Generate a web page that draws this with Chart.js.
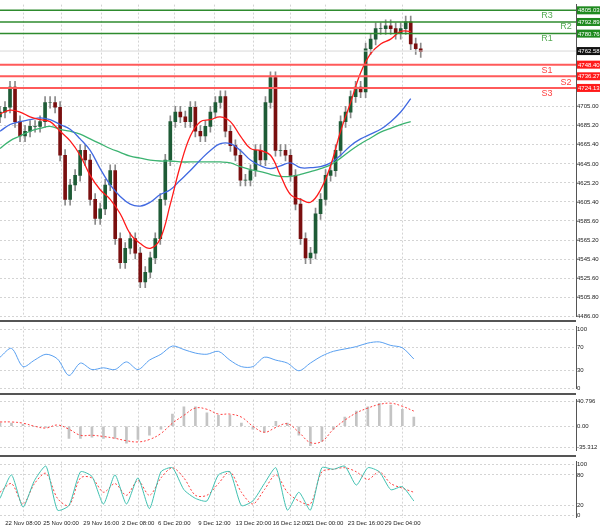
<!DOCTYPE html>
<html>
<head>
<meta charset="utf-8">
<script src="https://cdn.jsdelivr.net/npm/chart.js@4"></script>
<style>
  body { margin: 0; background: #fff; width: 600px; height: 527px; overflow: hidden; position: relative; font-family: "Liberation Sans", sans-serif; }
  canvas { position: absolute; left: 0; }
  .sep { position: absolute; left: 0; width: 576px; height: 2px; background: #555; }
</style>
</head>
<body>
<canvas id="main" width="600" height="321" style="top:0"></canvas>
<div class="sep" style="top:320px"></div>
<canvas id="rsi" width="600" height="71" style="top:322px"></canvas>
<div class="sep" style="top:393px"></div>
<canvas id="macd" width="600" height="60" style="top:395px"></canvas>
<div class="sep" style="top:455px"></div>
<canvas id="stoch" width="600" height="72" style="top:457px"></canvas>
<script>
// Closing prices, one candle every 5px (index = x/5)
const closes = [4699,4704,4725,4689,4674,4679,4684,4684,4689,4709,4709,4704,4654,4608,4623,4633,4659,4649,4608,4588,
  4598,4623,4638,4567,4542,4557,4567,4552,4522,4532,4547,4567,4608,4649,4689,4699,4694,4689,4704,4679,
  4674,4684,4699,4709,4715,4679,4664,4654,4628,4628,4638,4659,4649,4709,4735,4659,4659,4654,4633,4603,
  4567,4547,4552,4593,4608,4633,4638,4659,4689,4699,4715,4725,4720,4765,4775,4786,4786,4789,4786,4781,
  4786,4793,4770,4765,4762];
// Moving averages, one point every 10px
const maFast = [4697,4701,4699,4694,4691,4689,4679,4669,4654,4633,4618,4608,4593,4572,4562,4557,4567,4603,4643,4674,
  4689,4691,4694,4689,4674,4661,4659,4654,4633,4613,4608,4605,4618,4643,4679,4709,4740,4760,4770,4775,4783,4783];
const maMid = [4679,4686,4689,4691,4693,4691,4686,4681,4671,4659,4640,4623,4611,4603,4601,4605,4613,4618,4628,4638,
  4649,4659,4666,4666,4659,4649,4643,4640,4643,4646,4641,4641,4642,4646,4654,4664,4671,4676,4681,4689,4699,4713];
const maSlow = [4661,4669,4674,4679,4682,4684,4681,4679,4676,4671,4666,4661,4657,4653,4651,4649,4648,4648,4647,4647,
  4647,4647,4647,4646,4642,4639,4637,4634,4632,4632,4634,4637,4640,4644,4651,4659,4666,4672,4678,4682,4686,4689];
// Pivot levels
const levelNames = ['R3','R2','R1','S1','S2','S3'];
const levelValues = [4805.03,4792.89,4780.76,4748.40,4736.27,4724.13];
const lastPrice = 4762.58;
const priceTicks = [4486.00,4505.80,4525.60,4545.40,4565.20,4585.60,4605.40,4625.20,4645.00,4665.40,4685.20,4705.00];
// Oscillators, 37 points each spanning the same range
const rsi = [53,68,37,48,58,50,22,43,32,35,32,45,32,48,58,72,66,60,58,63,48,37,37,53,48,43,30,43,55,63,67,71,77,79,73,69,50];
const macdHist = [5,5,3,0,-2,0,-20,-20,-18,-20,-20,-28,-22,-15,-5,20,32,32,22,18,18,5,-5,-10,8,5,-15,-32,-25,-5,15,25,32,38,35,28,15];
const macdSignal = [7,7,5,0,-3,2,-5,-15,-15,-17,-20,-24,-26,-22,-12,5,18,30,28,20,20,15,0,-10,-2,4,-10,-27,-25,-5,10,22,30,36,38,33,25];
const stochMain = [34,80,17,69,97,11,20,86,77,23,80,23,74,14,86,94,51,34,29,80,86,20,29,63,94,11,46,11,94,91,97,60,94,86,51,57,29];
const stochSignal = [46,63,23,63,83,34,20,74,74,46,63,40,69,40,74,94,74,40,40,63,86,46,23,51,80,46,29,23,86,91,94,86,71,86,63,54,46];
const timeLabels = ['22 Nov 08:00','25 Nov 00:00','29 Nov 16:00','2 Dec 08:00','6 Dec 20:00','9 Dec 12:00',
  '13 Dec 20:00','16 Dec 12:00','21 Dec 00:00','23 Dec 16:00','29 Dec 04:00'];
const timePos = [4.6,12.2,20.2,27.6,34.8,42.8,50.6,58,65,73,80.4];
const oscStep = 2.295;

const GRID = { color: '#d4d4d4', lineWidth: 1, tickLength: 0 };
const tinyFont = { family: 'Liberation Sans', size: 6 };

function xAxis(showLabels) {
  return {
    type: 'linear', min: 0, max: 115, offset: false,
    grid: Object.assign({ offset: false }, GRID), border: { display: false, dash: [2, 2] },
    afterBuildTicks: s => { s.ticks = timePos.map(v => ({ value: v })); },
    ticks: {
      display: showLabels, color: '#222', font: tinyFont, maxRotation: 0, padding: 2, autoSkip: false,
      callback: (v, i) => timeLabels[i]
    }
  };
}
function yAxis(min, max, ticks, fmt) {
  return {
    position: 'right', min: min, max: max,
    grid: GRID, border: { display: true, color: '#555', dash: [2, 2] },
    afterBuildTicks: s => { s.ticks = ticks.map(v => ({ value: v })); },
    afterFit: s => { s.width = 24; },
    ticks: { color: '#222', font: tinyFont, padding: 1, callback: fmt }
  };
}
const base = {
  responsive: false, animation: false, devicePixelRatio: 1,
  layout: { padding: 0 },
  plugins: { legend: { display: false }, tooltip: { enabled: false } }
};

// Candles
const opens = closes.map((c, i) => i === 0 ? 4694 : closes[i - 1]);
const bodies = closes.map((c, i) => ({ x: i, y: [opens[i], c] }));
const wicks = closes.map((c, i) => ({ x: i, y: [Math.min(opens[i], c) - 6, Math.max(opens[i], c) + 6] }));
const bodyColors = closes.map((c, i) => c >= opens[i] ? '#1e5b36' : '#7a0f0f');
const maPts = arr => arr.map((v, i) => ({ x: i * 2, y: v }));
const oscPts = arr => arr.map((v, i) => ({ x: i * oscStep, y: v }));

const levelPlugin = {
  id: 'levels',
  afterDatasetsDraw(chart) {
    const { ctx, chartArea, scales } = chart;
    ctx.save();
    const badge = (y, bg, txt) => {
      ctx.font = '6px "Liberation Sans"';
      ctx.fillStyle = bg;
      ctx.fillRect(chartArea.right + 1, y - 4, 23, 8);
      ctx.fillStyle = '#fff';
      ctx.textBaseline = 'middle';
      ctx.textAlign = 'left';
      ctx.fillText(txt, chartArea.right + 2, y + 0.5);
    };
    const yl = scales.y.getPixelForValue(lastPrice);
    ctx.strokeStyle = '#d8d8d8';
    ctx.beginPath(); ctx.moveTo(0, yl); ctx.lineTo(chartArea.right, yl); ctx.stroke();
    levelValues.forEach((v, i) => {
      const y = scales.y.getPixelForValue(v);
      const green = i < 3;
      ctx.strokeStyle = green ? '#2e8b2e' : '#ff5a5a';
      ctx.lineWidth = green ? 1.5 : 2;
      ctx.beginPath(); ctx.moveTo(0, y); ctx.lineTo(chartArea.right, y); ctx.stroke();
      badge(y, green ? '#1f8a1f' : '#ff1a1a', v.toFixed(2));
      ctx.font = '9px "Liberation Sans"';
      ctx.fillStyle = green ? '#55aa55' : '#ff4040';
      ctx.textAlign = 'center';
      ctx.textBaseline = 'middle';
      const lx = [547, 566, 547][i % 3];
      ctx.fillText(levelNames[i], lx, y + (green ? 5 : 6));
    });
    badge(yl, '#111', lastPrice.toFixed(2));
    ctx.restore();
  }
};

new Chart(document.getElementById('main'), {
  type: 'bar',
  data: {
    datasets: [
      { type: 'line', data: maPts(maFast), borderColor: '#ff1a1a', borderWidth: 1.3, pointRadius: 0, tension: 0.4, order: 0 },
      { type: 'line', data: maPts(maMid), borderColor: '#4169e1', borderWidth: 1.3, pointRadius: 0, tension: 0.4, order: 0 },
      { type: 'line', data: maPts(maSlow), borderColor: '#3cb371', borderWidth: 1.3, pointRadius: 0, tension: 0.4, order: 0 },
      { data: bodies, backgroundColor: bodyColors, barThickness: 3, grouped: false, order: 1 },
      { data: wicks, backgroundColor: '#8a8a8a', barThickness: 1, grouped: false, order: 2 }
    ]
  },
  options: Object.assign({}, base, {
    scales: {
      x: xAxis(false),
      y: yAxis(4486, 4811, priceTicks, v => v.toFixed(2))
    }
  }),
  plugins: [levelPlugin]
});

new Chart(document.getElementById('rsi'), {
  type: 'line',
  data: { datasets: [{ data: oscPts(rsi), borderColor: '#5aa0f0', borderWidth: 1, pointRadius: 0, tension: 0.3 }] },
  options: Object.assign({}, base, {
    scales: { x: xAxis(false), y: yAxis(0, 105, [0, 30, 70, 100], v => String(v)) }
  })
});

new Chart(document.getElementById('macd'), {
  type: 'bar',
  data: {
    datasets: [
      { type: 'line', data: oscPts(macdSignal), borderColor: '#ff4040', borderWidth: 1, borderDash: [2, 2], pointRadius: 0, tension: 0.4, order: 0 },
      { data: oscPts(macdHist), backgroundColor: '#c4c4c4', barThickness: 2, order: 1 }
    ]
  },
  options: Object.assign({}, base, {
    scales: { x: xAxis(false), y: yAxis(-40, 44, [-35.312, 0, 40.796], v => v === 0 ? '0.00' : String(v)) }
  })
});

new Chart(document.getElementById('stoch'), {
  type: 'line',
  data: {
    datasets: [
      { data: oscPts(stochMain), borderColor: '#40c0b0', borderWidth: 1, pointRadius: 0, tension: 0.2 },
      { data: oscPts(stochSignal), borderColor: '#ff4040', borderWidth: 1, borderDash: [2, 2], pointRadius: 0, tension: 0.3 }
    ]
  },
  options: Object.assign({}, base, {
    scales: { x: xAxis(true), y: yAxis(-4, 106, [0, 20, 80, 100], v => String(v)) }
  })
});
</script>
</body>
</html>
